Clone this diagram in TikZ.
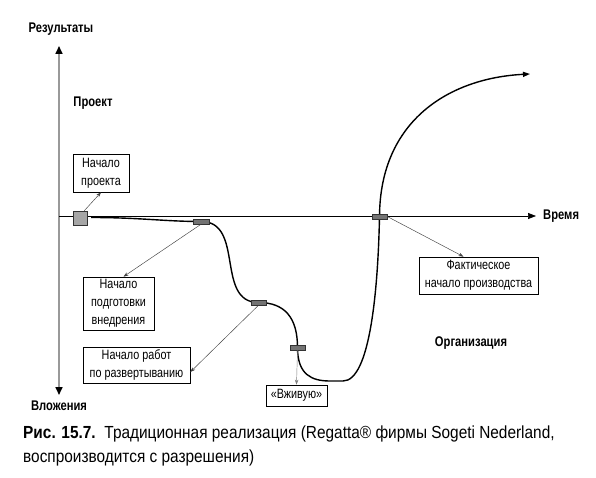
\documentclass[tikz,border=0pt]{standalone}
\usepackage{fontspec}
\setmainfont{Liberation Sans}[FakeStretch=0.8]
\newfontfamily\capfont{Liberation Sans}[FakeStretch=0.88]
\usetikzlibrary{arrows.meta}
\begin{document}
\begin{tikzpicture}[x=1pt,y=-1pt,
  lbl/.style={font=\bfseries\fontsize{14}{16}\selectfont, inner sep=0pt},
  box/.style={draw, line width=0.7pt, font=\fontsize{13.5}{18}\selectfont, align=center, inner sep=0pt},
  marker/.style={draw=black!80, fill=black!55, minimum width=15pt, minimum height=5pt, inner sep=0pt, line width=0.5pt},
  note/.style={draw=black!75, line width=0.45pt, -{Stealth[length=5pt,width=3.5pt]}},
  capt/.style={font=\capfont\fontsize{17.5}{20}\selectfont, inner sep=0pt, anchor=west},
]
\useasboundingbox (0,0) rectangle (596,478);
% axes
\coordinate (ytop) at (59,46);
\coordinate (ybot) at (59,395);
\coordinate (xo) at (59,216);
\coordinate (xend) at (536,216);
\draw[black!40, line width=1.6pt, {Triangle[color=black,length=8pt,width=7pt]}-{Triangle[color=black,length=8pt,width=7pt]}] (ybot) -- (ytop);
\draw[line width=0.7pt, -{Triangle[length=8pt,width=6pt]}] (xo) -- (xend);
% labels
\node[lbl] (res) at (61,29) {Результаты};
\node[lbl] (proj) at (93,103) {Проект};
\node[lbl] (vl) at (59,406) {Вложения};
\node[lbl, anchor=west] (time) at (543,216) {Время};
\node[lbl] (org) at (471,343) {Организация};
% boxes
\node[box, minimum width=56pt, minimum height=38pt] (b1) at (101,173) {Начало\\проекта};
\node[box, minimum width=71pt, minimum height=53pt] (b2) at (118.5,303.5) {Начало\\подготовки\\внедрения};
\node[box, minimum width=107pt, minimum height=36pt] (b3) at (136.5,365) {Начало работ\\по развертыванию};
\node[box, minimum width=61pt, minimum height=21pt] (b4) at (296.5,395.5) {«Вживую»};
\node[box, minimum width=119pt, minimum height=37pt] (b5) at (478.5,275.5) {Фактическое\\начало производства};
% curve
\coordinate (c0) at (91,217.5);
\coordinate (c1) at (201,221.5);
\coordinate (c2) at (258.5,302.5);
\coordinate (c3) at (297.5,347.5);
\coordinate (c4) at (379.5,216.5);
\coordinate (cb1) at (330,381);
\coordinate (cb2) at (343,381);
\coordinate (cend) at (530,74);
\draw[line width=1.4pt, -{Triangle[length=7pt,width=5pt]}] (c0) .. controls (140,217.5) and (165,221.5) .. (c1)
  .. controls (245,221.5) and (215,302.5) .. (c2)
  .. controls (285,302.5) and (297.5,318) .. (c3)
  .. controls (297.5,375) and (312,381) .. (cb1) -- (cb2)
  .. controls (370,381) and (378,290) .. (c4)
  .. controls (380,120) and (450,78) .. (cend);
% markers
\node[draw=black!80, fill=black!35, minimum size=14pt, inner sep=0pt, line width=0.6pt] (sq) at (80,218) {};
\node[marker, minimum width=16pt] (m1) at (c1) {};
\node[marker] (m2) at (c2) {};
\node[marker] (m3) at (c3) {};
\node[marker] (m4) at (c4) {};
% annotation arrows
\draw[note] ([xshift=-3pt]sq.north east) -- (b1.south);
\draw[note] (m1.south) -- ([xshift=5pt]b2.north);
\draw[note] (m2.south) -- ([yshift=-7pt]b3.east);
\draw[note, draw=black!50] (m3.south) -- (b4.north);
\draw[note] (m4.east) -- ([xshift=-15pt]b5.north);
% caption
\node[capt] (cap1) at (23,434) {\textbf{Рис. 15.7.}\enspace Традиционная реализация (Regatta® фирмы Sogeti Nederland,};
\node[capt] (cap2) at (23,458) {воспроизводится с разрешения)};
\end{tikzpicture}
\end{document}
